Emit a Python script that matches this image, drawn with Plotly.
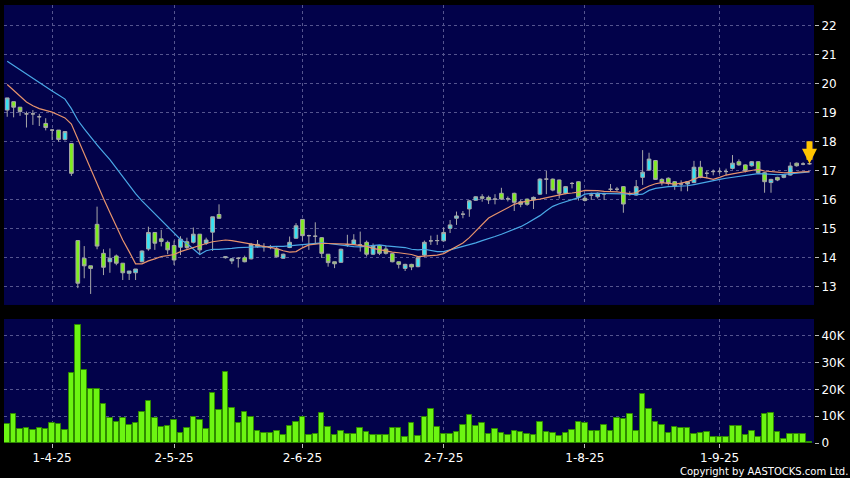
import plotly.graph_objects as go

# ---------------- data ----------------
tick_pos = [7, 26, 46, 68, 90, 111]
tick_labels = ["1-4-25", "2-5-25", "2-6-25", "2-7-25", "1-8-25", "1-9-25"]

opens = [19.10, 19.39, 19.20, 18.97, 18.97, 18.87, 18.64, 18.41, 18.41, 18.09,
         17.95, 14.60, 13.99, 13.73, 15.16, 14.16, 13.87, 14.07, 13.82, 13.47,
         13.49, 13.87, 14.31, 14.88, 14.66, 14.54, 14.43, 14.37, 14.56, 14.54,
         14.82, 14.51, 14.89, 15.50, 14.01, 13.90, 13.99, 14.01, 13.97, 14.47,
         14.39, 14.36, 14.31, 13.99, 14.36, 14.68, 15.33, 14.77, 14.75, 14.70,
         14.13, 13.87, 13.85, 14.45, 14.47, 14.45, 14.54, 14.13, 14.43, 14.31,
         14.15, 13.87, 13.64, 13.78, 13.70, 14.10, 14.59, 14.60, 14.59, 15.02,
         15.37, 15.51, 15.69, 15.99, 16.11, 16.09, 16.03, 16.23, 16.04, 16.23,
         15.94, 16.03, 16.00, 16.20, 16.72, 16.72, 16.69, 16.23, 16.57, 16.63,
         16.06, 16.17, 16.11, 16.21, 16.37, 16.37, 16.46, 16.21, 16.17, 16.78,
         17.03, 17.36, 16.71, 16.75, 16.63, 16.55, 16.55, 16.60, 17.13, 16.92,
         16.98, 16.98, 16.98, 17.09, 17.32, 17.21, 17.18, 17.32, 16.94, 16.60,
         16.78, 16.78, 16.86, 17.27, 17.24, 17.25]
highs = [19.52, 19.39, 19.20, 19.05, 19.10, 18.97, 18.82, 18.44, 18.41, 18.36,
         17.95, 14.60, 14.41, 13.73, 15.77, 14.30, 14.33, 14.12, 13.82, 13.55,
         13.62, 14.26, 15.08, 14.88, 14.97, 14.60, 14.60, 14.75, 14.70, 15.05,
         14.82, 14.70, 15.42, 15.85, 14.06, 14.00, 14.03, 14.08, 14.52, 14.62,
         14.51, 14.45, 14.40, 14.15, 14.74, 15.20, 15.33, 14.80, 15.23, 14.72,
         14.13, 13.87, 14.32, 14.80, 14.82, 14.91, 14.60, 14.50, 14.45, 14.43,
         14.17, 13.88, 13.80, 13.80, 14.03, 14.60, 14.77, 14.80, 15.05, 15.31,
         15.60, 15.62, 16.00, 16.13, 16.20, 16.15, 16.20, 16.42, 16.12, 16.25,
         16.00, 16.05, 16.12, 16.75, 17.00, 16.74, 16.70, 16.48, 16.62, 16.65,
         16.15, 16.25, 16.26, 16.25, 16.55, 16.45, 16.48, 16.30, 16.69, 17.72,
         17.63, 17.38, 16.75, 16.78, 16.65, 16.68, 16.65, 17.35, 17.35, 17.00,
         17.05, 17.10, 17.08, 17.55, 17.40, 17.23, 17.34, 17.34, 16.96, 16.73,
         16.80, 16.88, 17.30, 17.29, 17.30, 17.28]
lows = [18.87, 18.85, 18.90, 18.50, 18.59, 18.55, 18.40, 18.07, 18.01, 18.05,
        16.83, 12.96, 13.30, 12.76, 14.30, 13.41, 13.49, 13.75, 13.24, 13.24,
        13.24, 13.85, 14.25, 14.28, 14.40, 14.13, 13.76, 14.10, 14.30, 14.50,
        14.10, 14.45, 14.24, 15.35, 13.98, 13.79, 13.67, 13.85, 13.95, 14.35,
        14.22, 14.30, 14.02, 13.97, 14.34, 14.66, 14.60, 14.28, 14.50, 14.00,
        13.70, 13.65, 13.83, 14.38, 14.45, 14.22, 14.05, 14.10, 14.10, 14.12,
        13.85, 13.64, 13.55, 13.58, 13.68, 14.05, 14.45, 14.45, 14.57, 14.86,
        15.14, 15.37, 15.42, 15.97, 15.94, 15.86, 15.85, 16.00, 15.95, 15.62,
        15.75, 15.80, 15.69, 16.18, 16.20, 16.30, 16.05, 16.20, 16.40, 15.98,
        15.95, 16.00, 16.05, 16.00, 16.30, 16.30, 15.56, 16.15, 16.15, 16.52,
        17.00, 16.69, 16.50, 16.50, 16.35, 16.30, 16.30, 16.58, 16.75, 16.75,
        16.85, 16.90, 16.85, 17.05, 17.18, 16.95, 17.15, 16.90, 16.25, 16.25,
        16.65, 16.75, 16.84, 17.15, 17.20, 17.22]
closes = [19.52, 19.20, 19.05, 18.97, 18.97, 18.87, 18.50, 18.41, 18.09, 18.36,
          16.92, 13.13, 13.73, 13.64, 14.41, 13.68, 13.99, 13.82, 13.49, 13.55,
          13.62, 14.24, 14.88, 14.51, 14.57, 14.28, 13.93, 14.65, 14.36, 14.82,
          14.28, 14.62, 15.42, 15.37, 14.04, 13.97, 13.99, 13.87, 14.47, 14.39,
          14.39, 14.36, 14.04, 14.13, 14.54, 15.11, 14.77, 14.77, 14.75, 14.16,
          13.84, 13.80, 14.30, 14.45, 14.62, 14.45, 14.13, 14.43, 14.16, 14.16,
          13.87, 13.78, 13.78, 13.69, 14.01, 14.54, 14.59, 14.60, 14.88, 15.14,
          15.45, 15.51, 15.97, 16.11, 16.06, 16.00, 16.03, 16.03, 16.04, 15.92,
          15.85, 15.85, 16.09, 16.72, 16.72, 16.34, 16.23, 16.46, 16.57, 16.09,
          15.98, 16.17, 16.23, 16.21, 16.37, 16.37, 15.86, 16.21, 16.46, 16.96,
          17.41, 16.71, 16.60, 16.57, 16.48, 16.55, 16.63, 17.13, 16.78, 16.92,
          16.98, 16.98, 16.98, 17.27, 17.21, 17.01, 17.32, 16.94, 16.63, 16.71,
          16.69, 16.86, 17.17, 17.18, 17.24, 17.25]

volume_k = [7.2, 10.9, 5.4, 5.7, 4.8, 5.7, 5.4, 7.5, 7.2, 5.0,
            26.2, 44.0, 27.2, 20.0, 20.0, 14.5, 9.5, 8.0, 9.2, 6.8,
            7.6, 11.4, 15.6, 9.2, 5.8, 6.3, 8.4, 3.8, 5.6, 9.6,
            8.5, 5.3, 18.8, 12.3, 26.5, 13.2, 7.3, 11.6, 9.8, 4.3,
            3.8, 3.8, 4.4, 3.1, 6.2, 8.0, 9.6, 3.1, 3.3, 11.3,
            6.0, 3.1, 4.4, 3.3, 3.4, 5.7, 4.2, 3.1, 3.0, 3.0,
            5.7, 5.7, 2.2, 7.5, 2.6, 9.6, 12.6, 5.9, 3.5, 3.5,
            4.1, 6.7, 10.3, 6.3, 7.3, 3.3, 5.3, 3.8, 3.1, 4.6,
            4.2, 3.2, 3.1, 7.9, 4.1, 3.8, 2.7, 3.8, 5.0, 7.9,
            7.6, 4.5, 4.5, 6.8, 4.4, 9.4, 8.8, 10.8, 4.5, 18.4,
            12.7, 7.9, 6.7, 3.9, 6.0, 5.7, 5.7, 3.5, 3.8, 4.1,
            2.2, 2.2, 2.3, 6.2, 6.3, 3.1, 4.6, 2.2, 10.9, 11.0,
            4.2, 1.6, 3.5, 3.2, 3.2, 0.2]

ma10 = [19.98, 19.78, 19.58, 19.38, 19.25, 19.15, 19.09, 19.03, 18.93, 18.83,
        18.62, 18.10, 17.60, 17.07, 16.55, 16.05, 15.57, 15.09, 14.62, 14.22,
        13.80, 13.80, 13.90, 13.97, 14.05, 14.08, 14.12, 14.22, 14.29, 14.38,
        14.43, 14.50, 14.56, 14.60, 14.62, 14.60, 14.56, 14.53, 14.47, 14.44,
        14.40, 14.35, 14.32, 14.25, 14.20, 14.22, 14.35, 14.45, 14.48, 14.50,
        14.50, 14.50, 14.49, 14.48, 14.46, 14.43, 14.40, 14.33, 14.28, 14.24,
        14.20, 14.18, 14.16, 14.12, 14.05, 14.06, 14.07, 14.10, 14.15, 14.27,
        14.40, 14.52, 14.70, 14.92, 15.15, 15.38, 15.50, 15.62, 15.74, 15.85,
        15.92, 15.97, 16.00, 16.03, 16.08, 16.13, 16.18, 16.22, 16.24, 16.27,
        16.33, 16.33, 16.32, 16.30, 16.30, 16.28, 16.25, 16.22, 16.25, 16.38,
        16.48, 16.56, 16.60, 16.58, 16.55, 16.58, 16.63, 16.72, 16.80, 16.76,
        16.71, 16.78, 16.86, 16.90, 16.94, 16.99, 17.03, 17.06, 17.00, 16.97,
        16.96, 16.94, 16.94, 16.95, 16.97, 16.98]
ma20 = [20.78, 20.63, 20.48, 20.33, 20.19, 20.05, 19.90, 19.76, 19.62, 19.48,
        19.15, 18.75, 18.45, 18.16, 17.90, 17.64, 17.39, 17.10, 16.80, 16.50,
        16.22, 15.97, 15.75, 15.52, 15.30, 15.08, 14.85, 14.64, 14.50, 14.30,
        14.12, 14.25, 14.30, 14.30, 14.31, 14.33, 14.36, 14.37, 14.38, 14.39,
        14.39, 14.39, 14.40, 14.40, 14.42, 14.44, 14.46, 14.50, 14.52, 14.52,
        14.50, 14.47, 14.44, 14.40, 14.39, 14.38, 14.41, 14.44, 14.45, 14.42,
        14.40, 14.38, 14.36, 14.30, 14.28, 14.30, 14.25, 14.22, 14.22, 14.28,
        14.33, 14.38, 14.45, 14.52, 14.60, 14.66, 14.74, 14.82, 14.90, 14.98,
        15.08, 15.20, 15.33, 15.46, 15.63, 15.78, 15.87, 15.94, 16.00, 16.08,
        16.20, 16.23, 16.23, 16.23, 16.22, 16.22, 16.21, 16.20, 16.18, 16.20,
        16.33, 16.40, 16.44, 16.46, 16.47, 16.48, 16.49, 16.53, 16.58, 16.63,
        16.67, 16.71, 16.75, 16.78, 16.80, 16.83, 16.87, 16.91, 16.90, 16.88,
        16.87, 16.88, 16.90, 16.93, 16.95, 16.97]

# ---------------- styling ----------------
NAVY = "#02024A"
GRID = "#55558F"
WICK = "#A8A8A8"
UP = "#36E2F4"
DOWN = "#7EEE1E"
VOL = "#6CF512"
FONT = "DejaVu Sans"

idx = list(range(len(closes)))
up_i = [i for i in idx if closes[i] > opens[i]]
dn_i = [i for i in idx if closes[i] < opens[i]]
dj_i = [i for i in idx if closes[i] == opens[i]]


def pick(arr, ids):
    return [arr[i] for i in ids]


fig = go.Figure()

fig.add_trace(go.Bar(
    x=idx, y=[v * 1000 for v in volume_k], width=0.86,
    marker=dict(color=VOL, line=dict(color="#2F8A00", width=1)),
    xaxis="x", yaxis="y", showlegend=False))

for ids, col in ((up_i, UP), (dn_i, DOWN), (dj_i, WICK)):
    fig.add_trace(go.Candlestick(
        x=ids, open=pick(opens, ids), high=pick(highs, ids),
        low=pick(lows, ids), close=pick(closes, ids),
        increasing=dict(fillcolor=col, line=dict(color=WICK, width=1)),
        decreasing=dict(fillcolor=col, line=dict(color=WICK, width=1)),
        whiskerwidth=0, xaxis="x2", yaxis="y2", showlegend=False))

fig.add_trace(go.Scatter(x=idx, y=ma20, mode="lines",
                         line=dict(color="#4AA8E6", width=1.2),
                         xaxis="x2", yaxis="y2", showlegend=False))
fig.add_trace(go.Scatter(x=idx, y=ma10, mode="lines",
                         line=dict(color="#E8946C", width=1.2),
                         xaxis="x2", yaxis="y2", showlegend=False))

last = idx[-1]
fig.add_annotation(x=last, y=closes[-1], xref="x2", yref="y2",
                   text="", showarrow=True, ax=0, ay=-24,
                   arrowhead=2, arrowsize=0.5, arrowwidth=6,
                   arrowcolor="#FFC400")

fig.add_annotation(x=1.044, y=-0.066, xref="paper", yref="paper",
                   xanchor="right", yanchor="middle", showarrow=False,
                   text="Copyright by AASTOCKS.com Ltd.",
                   font=dict(family=FONT, size=10, color="white"))

xr = [-0.5, 125.7]
common_x = dict(range=xr, showgrid=True, gridcolor=GRID, griddash="3px,3px",
                gridwidth=1, tickvals=tick_pos, zeroline=False,
                showline=False, rangeslider=dict(visible=False))

fig.update_layout(
    width=850, height=478,
    margin=dict(l=4, r=32, t=5, b=35),
    paper_bgcolor="black", plot_bgcolor=NAVY,
    font=dict(family=FONT, size=12, color="white"),
    boxgap=0.18,
    bargap=0,
    xaxis=dict(**common_x, anchor="y", ticktext=tick_labels,
               ticks="outside", ticklen=4, tickcolor="#BBBBBB",
               tickfont=dict(family=FONT, size=12, color="white")),
    xaxis2=dict(**common_x, anchor="y2", matches="x",
                showticklabels=False, ticks=""),
    yaxis=dict(domain=[0, 0.2831], range=[0, 46200], side="right",
               tickvals=[0, 10000, 20000, 30000, 40000],
               ticktext=["0", "10K", "20K", "30K", "40K"],
               showgrid=True, gridcolor=GRID, griddash="3px,3px",
               zeroline=False, ticks="outside", ticklen=4,
               tickcolor="#BBBBBB",
               tickfont=dict(family=FONT, size=12, color="white")),
    yaxis2=dict(domain=[0.3151, 1], range=[12.379, 22.724], side="right",
                tickvals=list(range(13, 23)),
                showgrid=True, gridcolor=GRID, griddash="3px,3px",
                zeroline=False, ticks="outside", ticklen=4,
                tickcolor="#BBBBBB",
                tickfont=dict(family=FONT, size=12, color="white")),
    hovermode=False,
)

fig.write_html("out.html", config={"displayModeBar": False},
               post_script="document.body.style.margin='0';"
                           "document.body.style.background='black';")
